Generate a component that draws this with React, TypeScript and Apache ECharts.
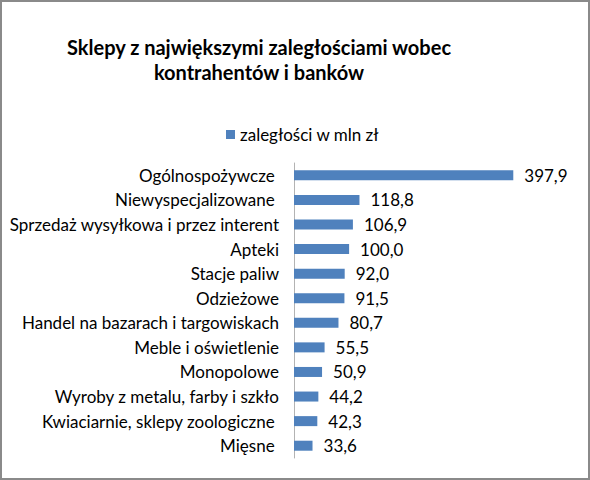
import React, { useEffect, useRef } from "react";
import * as echarts from "echarts";

const categories = [
  "Ogólnospożywcze ",
  "Niewyspecjalizowane ",
  "Sprzedaż wysyłkowa i przez interent",
  "Apteki",
  "Stacje paliw",
  "Odzieżowe",
  "Handel na bazarach i targowiskach",
  "Meble i oświetlenie",
  "Monopolowe",
  "Wyroby z metalu, farby i szkło",
  "Kwiaciarnie, sklepy zoologiczne ",
  "Mięsne ",
];

const values = [397.9, 118.8, 106.9, 100.0, 92.0, 91.5, 80.7, 55.5, 50.9, 44.2, 42.3, 33.6];

const seriesName = "zaległości w mln zł";
const titleLines = ["Sklepy z największymi zaległościami wobec", "kontrahentów i banków"];

const FONT = "Lato, 'Liberation Sans', sans-serif";

const App: React.FC = () => {
  const chartRef = useRef<HTMLDivElement>(null);

  useEffect(() => {
    if (!chartRef.current) return;
    const chart = echarts.init(chartRef.current, undefined, { renderer: "svg" });

    chart.setOption({
      animation: false,
      backgroundColor: "#ffffff",
      textStyle: { fontFamily: FONT },
      graphic: [
        {
          type: "rect",
          shape: { x: 1, y: 1, width: 588, height: 478 },
          style: { fill: "none", stroke: "#8a8a8a", lineWidth: 2 },
          silent: true,
        },
        {
          type: "text",
          x: 259,
          y: 34,
          style: {
            text: titleLines.join("\n"),
            textAlign: "center",
            textVerticalAlign: "top",
            font: `bold 20px ${FONT}`,
            lineHeight: 25,
            fill: "#000000",
          },
        },
      ],
      legend: {
        data: [seriesName],
        left: 221,
        top: 121,
        icon: "rect",
        itemWidth: 9,
        itemHeight: 9,
        textStyle: { fontSize: 17, color: "#000000", fontFamily: FONT },
      },
      grid: { left: 294, right: 48, top: 163, height: 295 },
      xAxis: {
        type: "value",
        min: 0,
        max: 450,
        show: false,
        splitLine: { show: false },
      },
      yAxis: {
        type: "category",
        data: categories,
        inverse: true,
        axisLine: { show: true, lineStyle: { color: "#b3b3b3", width: 1 } },
        axisTick: { show: false },
        axisLabel: { margin: 15, fontSize: 17, color: "#000000", fontFamily: FONT },
      },
      series: [
        {
          name: seriesName,
          type: "bar",
          data: values,
          barWidth: 10,
          itemStyle: { color: "#4f81bd" },
          label: {
            show: true,
            position: "right",
            distance: 11,
            fontSize: 17,
            color: "#000000",
            fontFamily: FONT,
            formatter: (p: any) => Number(p.value).toFixed(1).replace(".", ","),
          },
        },
      ],
    });

    return () => {
      chart.dispose();
    };
  }, []);

  return (
    <div
      ref={chartRef}
      style={{ position: "fixed", left: 0, top: 0, width: 590, height: 480 }}
    />
  );
};

export default App;
